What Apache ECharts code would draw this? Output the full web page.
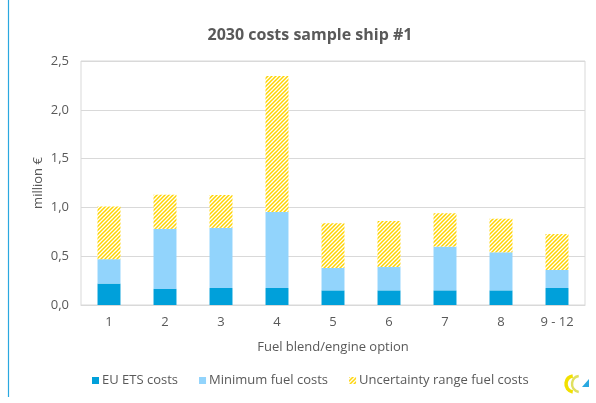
<!DOCTYPE html>
<html>
<head>
<meta charset="utf-8">
<script src="https://cdn.jsdelivr.net/npm/echarts@6/dist/echarts.min.js"></script>
<style>
html,body{margin:0;padding:0;background:#fff;}
#chart{width:596px;height:403px;}
</style>
</head>
<body>
<div id="chart"></div>
<script>
const categories = ['1','2','3','4','5','6','7','8','9 - 12'];
const etsCosts = [0.22, 0.165, 0.174, 0.174, 0.15, 0.15, 0.15, 0.15, 0.174];
const minFuelTotal = [0.47, 0.78, 0.79, 0.953, 0.379, 0.389, 0.598, 0.54, 0.359];
const maxTotal = [1.01, 1.13, 1.127, 2.346, 0.837, 0.86, 0.94, 0.884, 0.727];
const yTicks = [0, 0.5, 1.0, 1.5, 2.0, 2.5];

const minFuelCosts = minFuelTotal.map((v, i) => +(v - etsCosts[i]).toFixed(3));
const uncertainty = maxTotal.map((v, i) => +(v - minFuelTotal[i]).toFixed(3));

const FONT = 'Open Sans';
const TXT = '#595959';

// hatch pattern
const pc = document.createElement('canvas');
pc.width = 4; pc.height = 4;
const px = pc.getContext('2d');
px.fillStyle = '#ffffff';
px.fillRect(0, 0, 4, 4);
px.strokeStyle = '#FFD400';
px.lineWidth = 1.5;
px.beginPath();
px.moveTo(0, 4); px.lineTo(4, 0);
px.moveTo(-1, 1); px.lineTo(1, -1);
px.moveTo(3, 5); px.lineTo(5, 3);
px.stroke();

const chart = echarts.init(document.getElementById('chart'), null, {renderer: 'canvas'});
chart.setOption({
  animation: false,
  backgroundColor: '#ffffff',
  title: {
    text: '2030 costs sample ship #1',
    left: 305, top: 22, textAlign: 'center',
    textStyle: {fontFamily: FONT, fontSize: 16, fontWeight: 'bold', color: TXT}
  },
  grid: {
    left: 81, right: 11, top: 61, bottom: 98,
    show: true, borderColor: '#d9d9d9', borderWidth: 1, backgroundColor: 'transparent'
  },
  legend: {
    bottom: 11, left: 87,
    itemWidth: 7, itemHeight: 7, itemGap: 21,
    icon: 'rect',
    textStyle: {fontFamily: FONT, fontSize: 13, color: TXT, padding: [0, 0, 0, -2]},
    data: ['EU ETS costs', 'Minimum fuel costs', 'Uncertainty range fuel costs']
  },
  xAxis: {
    type: 'category',
    data: categories,
    name: 'Fuel blend/engine option',
    nameLocation: 'middle', nameGap: 36, nameMoveOverlap: false,
    nameTextStyle: {fontFamily: FONT, fontSize: 13, color: TXT},
    axisLine: {show: true, lineStyle: {color: '#d9d9d9'}},
    axisTick: {show: false},
    axisLabel: {fontFamily: FONT, fontSize: 13, color: TXT, margin: 11}
  },
  yAxis: {
    type: 'value',
    min: 0, max: 2.5, interval: 0.5,
    name: 'million €',
    nameLocation: 'middle', nameGap: 36, nameMoveOverlap: false,
    nameTextStyle: {fontFamily: FONT, fontSize: 13, color: TXT},
    axisLine: {show: false},
    axisTick: {show: false},
    splitLine: {lineStyle: {color: '#d9d9d9', width: 1}},
    axisLabel: {
      fontFamily: FONT, fontSize: 13, color: TXT, margin: 12,
      formatter: v => yTicks.indexOf(v) >= 0 ? v.toFixed(1).replace('.', ',') : ''
    }
  },
  series: [
    {name: 'EU ETS costs', type: 'bar', stack: 's', barWidth: '41%',
     itemStyle: {color: '#00A0DA'}, data: etsCosts},
    {name: 'Minimum fuel costs', type: 'bar', stack: 's',
     itemStyle: {color: '#92D4FC'}, data: minFuelCosts},
    {name: 'Uncertainty range fuel costs', type: 'bar', stack: 's',
     itemStyle: {color: {image: pc, repeat: 'repeat'}}, data: uncertainty}
  ],
  graphic: [
    {type: 'line', shape: {x1: 8.5, y1: 0, x2: 8.5, y2: 397}, style: {stroke: '#2AA8E0', lineWidth: 1.2}},
    {type: 'arc', shape: {cx: 574, cy: 384, r: 8, startAngle: Math.PI * 0.55, endAngle: Math.PI * 1.45},
     style: {stroke: '#F2E000', lineWidth: 3.5, fill: null}},
    {type: 'arc', shape: {cx: 580, cy: 384, r: 8, startAngle: Math.PI * 0.55, endAngle: Math.PI * 1.45},
     style: {stroke: '#E0E060', lineWidth: 2.5, fill: null}},
    {type: 'polygon', shape: {points: [[582, 387], [589, 387], [589, 379]]}, style: {fill: '#2AA8E0'}}
  ]
});
</script>
</body>
</html>
